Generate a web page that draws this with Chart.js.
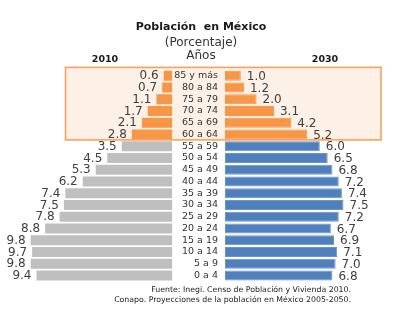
<!DOCTYPE html>
<html lang="es">
<head>
<meta charset="utf-8">
<title>Población en México</title>
<script src="https://cdn.jsdelivr.net/npm/chart.js@4.4.1/dist/chart.umd.min.js"></script>
<style>
  body { margin: 0; background: #fff; font-family: "DejaVu Sans", Verdana, sans-serif; }
  #lienzo { position: relative; width: 394px; height: 326px; overflow: hidden; }
  #lienzo canvas { position: absolute; left: 0; top: 0; }
  .texto { position: absolute; white-space: nowrap; color: #1a1a1a; }
  .centro { left: 0; width: 402px; text-align: center; }
</style>
</head>
<body>
<div id="lienzo">
  <canvas id="grafica2010" width="394" height="326"></canvas>
  <canvas id="grafica2030" width="394" height="326"></canvas>
  <div class="texto centro" style="top:20px;font-size:11px;font-weight:bold;line-height:14px;">Población&nbsp; en México</div>
  <div class="texto centro" style="top:35px;font-size:12px;line-height:14px;color:#333;">(Porcentaje)</div>
  <div class="texto centro" style="top:48px;font-size:12px;line-height:14px;color:#333;">Años</div>
  <div class="texto" style="left:80px;width:50px;text-align:center;top:53px;font-size:9.5px;font-weight:bold;line-height:12px;">2010</div>
  <div class="texto" style="left:300px;width:50px;text-align:center;top:53px;font-size:9.5px;font-weight:bold;line-height:12px;">2030</div>
  <div class="texto" style="right:43px;top:285px;font-size:7.8px;line-height:10px;text-align:right;">Fuente: Inegi. Censo de Población y Vivienda 2010.<br>Conapo. Proyecciones de la población en México 2005-2050.</div>
</div>

<script>
// ========== DATOS ==========
const gruposEdad = [
  '85 y más', '80 a 84', '75 a 79', '70 a 74', '65 a 69', '60 a 64',
  '55 a 59', '50 a 54', '45 a 49', '40 a 44', '35 a 39', '30 a 34',
  '25 a 29', '20 a 24', '15 a 19', '10 a 14', '5 a 9', '0 a 4'
];
const poblacion2010 = [0.6, 0.7, 1.1, 1.7, 2.1, 2.8, 3.5, 4.5, 5.3, 6.2, 7.4, 7.5, 7.8, 8.8, 9.8, 9.7, 9.8, 9.4];
const poblacion2030 = [1.0, 1.2, 2.0, 3.1, 4.2, 5.2, 6.0, 6.5, 6.8, 7.2, 7.4, 7.5, 7.2, 6.7, 6.9, 7.1, 7.0, 6.8];
// los primeros grupos (60 años y más) van resaltados
const gruposResaltados = 6;

// ========== ESTILOS ==========
const NARANJA = '#f79646';
const GRIS = '#bfbfbf';
const AZUL = '#4f7fbd';
const FUENTE = '"DejaVu Sans", Verdana, sans-serif';

const areaArriba = 69.9;
const areaAbajo = 326 - 281.4;

// ========== PLUGIN: ETIQUETAS DE VALORES ==========
function pluginValores(lado) {
  return {
    id: 'valores' + lado,
    afterDatasetsDraw(chart) {
      const ctx = chart.ctx;
      const meta = chart.getDatasetMeta(0);
      const datos = chart.data.datasets[0].data;
      ctx.save();
      ctx.font = '12px ' + FUENTE;
      ctx.fillStyle = '#404040';
      ctx.textBaseline = 'middle';
      meta.data.forEach((barra, i) => {
        const texto = datos[i].toFixed(1);
        if (lado === 'izq') {
          ctx.textAlign = 'right';
          ctx.fillText(texto, barra.x - 5, barra.y + 0.5);
        } else {
          ctx.textAlign = 'left';
          ctx.fillText(texto, barra.x + 6, barra.y + 1);
        }
      });
      ctx.restore();
    }
  };
}

// ========== PLUGIN: RECUADRO 60 Y MÁS ==========
const pluginRecuadro = {
  id: 'recuadro',
  beforeDatasetsDraw(chart) {
    const ctx = chart.ctx;
    const y = chart.scales.y;
    const arriba = chart.chartArea.top - 2.5;
    const abajo = (y.getPixelForValue(gruposResaltados - 1) + y.getPixelForValue(gruposResaltados)) / 2 - 0.5;
    ctx.save();
    ctx.fillStyle = '#fdf1e7';
    ctx.strokeStyle = '#f7a263';
    ctx.lineWidth = 1.6;
    ctx.fillRect(65.5, arriba, 315.5, abajo - arriba);
    ctx.strokeRect(65.5, arriba, 315.5, abajo - arriba);
    ctx.restore();
  }
};

// ========== 1. PIRÁMIDE 2010 (IZQUIERDA) ==========
function crearGrafica2010() {
  const ctx = document.getElementById('grafica2010');
  return new Chart(ctx, {
    type: 'bar',
    data: {
      labels: gruposEdad,
      datasets: [{
        data: poblacion2010,
        backgroundColor: c => c.dataIndex < gruposResaltados ? NARANJA : GRIS,
        barPercentage: 0.85,
        categoryPercentage: 1
      }]
    },
    options: {
      indexAxis: 'y',
      responsive: false,
      animation: false,
      layout: { padding: { left: 27.8, right: 394 - 172.3, top: areaArriba, bottom: areaAbajo } },
      plugins: { legend: { display: false }, tooltip: { enabled: false } },
      scales: {
        x: { min: 0, max: 10, reverse: true, display: false },
        y: { display: false }
      }
    },
    plugins: [pluginRecuadro, pluginValores('izq')]
  });
}

// ========== 2. PIRÁMIDE 2030 (DERECHA) ==========
function crearGrafica2030() {
  const ctx = document.getElementById('grafica2030');
  return new Chart(ctx, {
    type: 'bar',
    data: {
      labels: gruposEdad,
      datasets: [{
        data: poblacion2030,
        backgroundColor: c => c.dataIndex < gruposResaltados ? NARANJA : AZUL,
        borderColor: c => c.dataIndex < gruposResaltados ? NARANJA : '#6c93c9',
        borderWidth: 1,
        borderSkipped: false,
        barPercentage: 0.85,
        categoryPercentage: 1
      }]
    },
    options: {
      indexAxis: 'y',
      responsive: false,
      animation: false,
      layout: { padding: { left: 172, right: 394 - 383, top: areaArriba, bottom: areaAbajo } },
      plugins: { legend: { display: false }, tooltip: { enabled: false } },
      scales: {
        x: { min: 0, max: 10, display: false },
        y: {
          afterFit: eje => { eje.width = 53; },
          grid: { display: false, drawTicks: false },
          border: { display: false },
          ticks: {
            padding: 7,
            autoSkip: false,
            color: '#333',
            font: { family: FUENTE, size: 9.5 }
          }
        }
      }
    },
    plugins: [pluginValores('der')]
  });
}

crearGrafica2010();
crearGrafica2030();
</script>
</body>
</html>
